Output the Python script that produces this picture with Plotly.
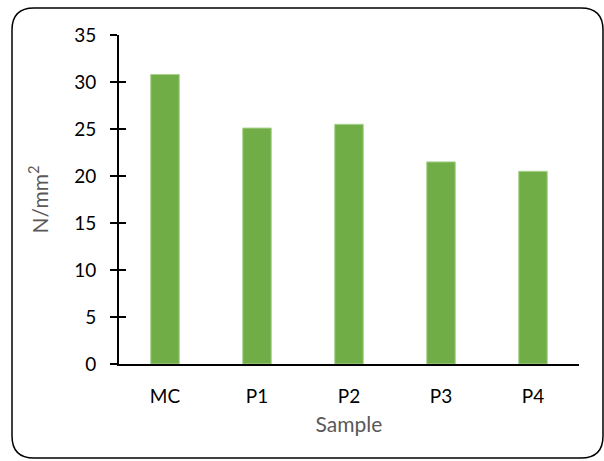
import plotly.graph_objects as go

# Compressive strength per sample
samples = ["MC", "P1", "P2", "P3", "P4"]
strength = [30.8, 25.1, 25.5, 21.5, 20.5]
y_ticks = [0, 5, 10, 15, 20, 25, 30, 35]

W, H = 604, 461
L, R, T, B = 119, 25, 35, 97
pw, ph = W - L - R, H - T - B

def px_to_paper(x, y):
    return (x - L) / pw, (H - B - y) / ph

def rounded_rect(x0, y0, x1, y1, r):
    def P(x, y):
        a, b = px_to_paper(x, y)
        return f"{a:.5f},{b:.5f}"
    d = f"M {P(x0 + r, y0)} L {P(x1 - r, y0)} Q {P(x1, y0)} {P(x1, y0 + r)} "
    d += f"L {P(x1, y1 - r)} Q {P(x1, y1)} {P(x1 - r, y1)} "
    d += f"L {P(x0 + r, y1)} Q {P(x0, y1)} {P(x0, y1 - r)} "
    d += f"L {P(x0, y0 + r)} Q {P(x0, y0)} {P(x0 + r, y0)} Z"
    return d

font_family = "Lato, 'Open Sans', sans-serif"

fig = go.Figure()
fig.add_trace(go.Bar(
    x=samples, y=strength,
    marker=dict(color="#70ad47", line=dict(color="#a9d18e", width=1)),
    width=0.31,
))
# empty trace on the overlay axis so its inside ticks are drawn
fig.add_trace(go.Scatter(x=samples, y=[None] * len(samples), yaxis="y2",
                         showlegend=False, hoverinfo="skip"))

fig.update_layout(
    width=W, height=H,
    margin=dict(l=L, r=R, t=T, b=B),
    paper_bgcolor="white", plot_bgcolor="white",
    showlegend=False,
    font=dict(family=font_family, size=19, color="black"),
    xaxis=dict(
        showline=True, linecolor="black", linewidth=2,
        ticks="", showgrid=False, zeroline=False,
        ticklabelstandoff=14,
        title=dict(text="Sample", font=dict(color="#595959", size=21), standoff=12),
    ),
    yaxis=dict(
        range=[0, 35], tickvals=y_ticks,
        showline=True, linecolor="black", linewidth=2,
        ticks="outside", ticklen=7, tickwidth=2, tickcolor="black",
        showgrid=False, zeroline=False,
        ticklabelstandoff=10,
        title=dict(text="N/mm<sup>2</sup>", font=dict(color="#595959", size=21), standoff=20),
    ),
    yaxis2=dict(
        range=[0, 35], tickvals=y_ticks, overlaying="y", side="left",
        showline=False, ticks="inside", ticklen=7, tickwidth=2, tickcolor="black",
        showticklabels=False, showgrid=False, zeroline=False,
    ),
    shapes=[dict(
        type="path", xref="paper", yref="paper",
        path=rounded_rect(12, 8, 603, 458, 22),
        line=dict(color="black", width=1.5), layer="below",
    )],
)

fig.write_html("out.html")
